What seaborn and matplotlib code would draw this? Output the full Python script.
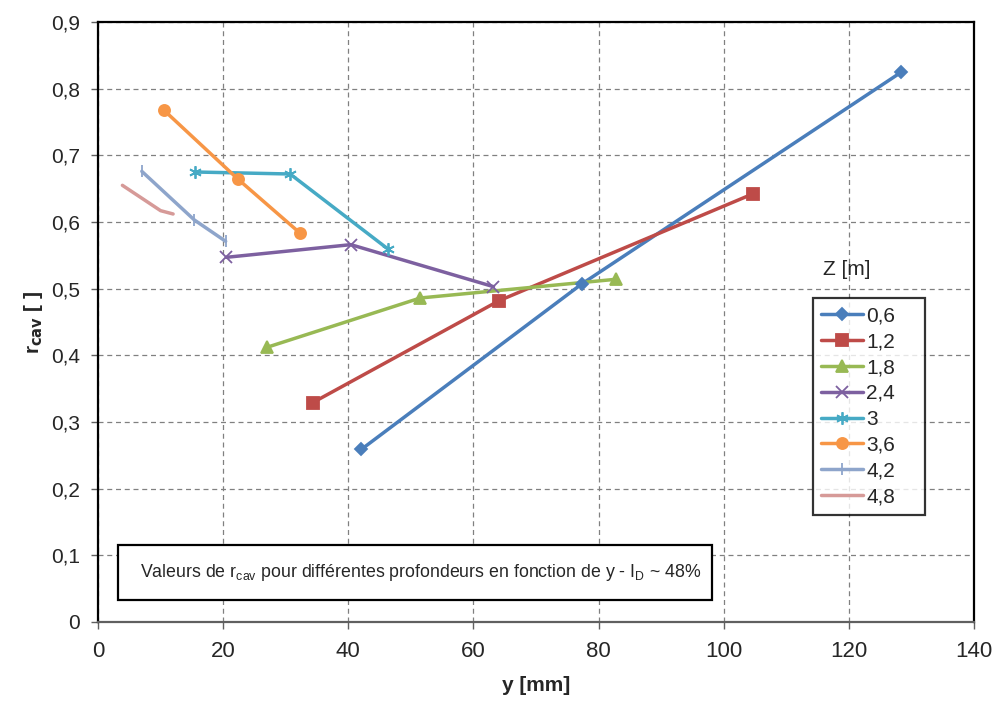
import matplotlib

matplotlib.use("Agg")
import matplotlib.pyplot as plt
import pandas as pd
import seaborn as sns
from matplotlib.patches import Rectangle
from matplotlib.ticker import FuncFormatter, MultipleLocator

# depth series (Z in m) and measured points
DEPTHS = ["0,6", "1,2", "1,8", "2,4", "3", "3,6", "4,2", "4,8"]
Y_06 = [42.1, 77.3, 128.4]
R_06 = [0.259, 0.507, 0.825]
Y_12 = [34.3, 64.1, 104.6]
R_12 = [0.329, 0.482, 0.642]
Y_18 = [27.0, 51.5, 82.7]
R_18 = [0.412, 0.486, 0.514]
Y_24 = [20.5, 40.4, 63.2]
R_24 = [0.547, 0.566, 0.503]
Y_30 = [15.5, 30.7, 46.4]
R_30 = [0.675, 0.672, 0.559]
Y_36 = [10.5, 22.4, 32.2]
R_36 = [0.768, 0.664, 0.584]
Y_42 = [7.0, 15.4, 20.4]
R_42 = [0.676, 0.603, 0.571]
Y_48 = [3.9, 10.0, 12.0]
R_48 = [0.655, 0.617, 0.612]

SERIES_Y = [Y_06, Y_12, Y_18, Y_24, Y_30, Y_36, Y_42, Y_48]
SERIES_R = [R_06, R_12, R_18, R_24, R_30, R_36, R_42, R_48]

COLORS = ["#4A7EBB", "#BE4B48", "#98B954", "#7D60A0", "#46AAC5", "#F79646", "#8EA5CB", "#D69A98"]
MARKERS = ["D", "s", "^", "x", (6, 2, 0), "o", "|", ""]
MSIZES = [6, 8, 8, 8, 9, 8, 9, 0]

rows = []
for z, ys, rs in zip(DEPTHS, SERIES_Y, SERIES_R):
    for i, (y, r) in enumerate(zip(ys, rs)):
        rows.append({"Z": z, "y": y, "r": r, "order": i})
frame = pd.DataFrame(rows)

sns.set_theme(style="white")
plt.rcParams["font.family"] = ["Liberation Sans", "DejaVu Sans"]

fig = plt.figure(figsize=(9.96, 7.1), dpi=100)
ax = fig.add_axes([0.0984, 0.124, 0.8796, 0.845])

sns.lineplot(
    data=frame,
    x="y",
    y="r",
    hue="Z",
    hue_order=DEPTHS,
    palette=COLORS,
    units="Z",
    estimator=None,
    sort=False,
    legend=False,
    linewidth=2.5,
    ax=ax,
)
for z, color, marker, ms in zip(DEPTHS, COLORS, MARKERS, MSIZES):
    sub = frame[frame["Z"] == z]
    if marker:
        ax.plot(sub["y"], sub["r"], linestyle="none", marker=marker, markersize=ms,
                color=color, markeredgecolor=color, markeredgewidth=1.3)

# legend handles mirroring the line+marker styles
handles = []
for z, color, marker, ms in zip(DEPTHS, COLORS, MARKERS, MSIZES):
    (h,) = ax.plot([], [], color=color, linewidth=2.5, marker=marker if marker else None,
                   markersize=ms, markeredgewidth=1.3, label=z)
    handles.append(h)
leg = ax.legend(handles=handles, loc="upper left", bbox_to_anchor=(0.816, 0.54, 0.128, 0),
                mode="expand", frameon=True, fancybox=False, edgecolor="black", fontsize=15,
                handlelength=2.0, handletextpad=0.15, labelspacing=0.33,
                borderpad=0.4, borderaxespad=0)
leg.get_frame().set_linewidth(1.6)
ax.text(0.855, 0.587, "Z [m]", transform=ax.transAxes, fontsize=15, ha="center", va="center")

ax.set_xlim(0, 140)
ax.set_ylim(0, 0.9)
ax.xaxis.set_major_locator(MultipleLocator(20))
ax.yaxis.set_major_locator(MultipleLocator(0.1))
ax.yaxis.set_major_formatter(FuncFormatter(lambda v, _: "0" if abs(v) < 1e-9 else f"{v:.1f}".replace(".", ",")))
ax.xaxis.set_major_formatter(FuncFormatter(lambda v, _: f"{v:.0f}"))
ax.grid(True, linestyle=(0, (4, 3)), color="#808080", linewidth=0.9)
for side in ["top", "right", "left", "bottom"]:
    ax.spines[side].set_visible(True)
    ax.spines[side].set_color("black")
    ax.spines[side].set_linewidth(1.6)
ax.spines["bottom"].set_color("#606060")
ax.tick_params(axis="both", which="major", direction="out", length=5, width=1,
               color="#606060", bottom=True, left=True)
ax.tick_params(axis="y", labelsize=15, pad=8)
ax.tick_params(axis="x", labelsize=16, pad=9)

ax.set_xlabel("y [mm]", fontsize=15, fontweight="bold", labelpad=10)
ax.set_ylabel(r"r$_{\mathbf{cav}}$ [ ]", fontsize=15, fontweight="bold", labelpad=4)

# caption box
ax.add_patch(Rectangle((0.0228, 0.0367), 0.678, 0.0913, transform=ax.transAxes,
                       facecolor="white", edgecolor="black", linewidth=1.6, zorder=4))
ax.text(0.368, 0.082,
        r"Valeurs de r$_{\mathregular{cav}}$ pour différentes profondeurs en fonction de y - I$_{\mathregular{D}}$ ~ 48%",
        transform=ax.transAxes, fontsize=12.8, ha="center", va="center", zorder=5)

fig.savefig("out.png", dpi=100)
plt.close(fig)
